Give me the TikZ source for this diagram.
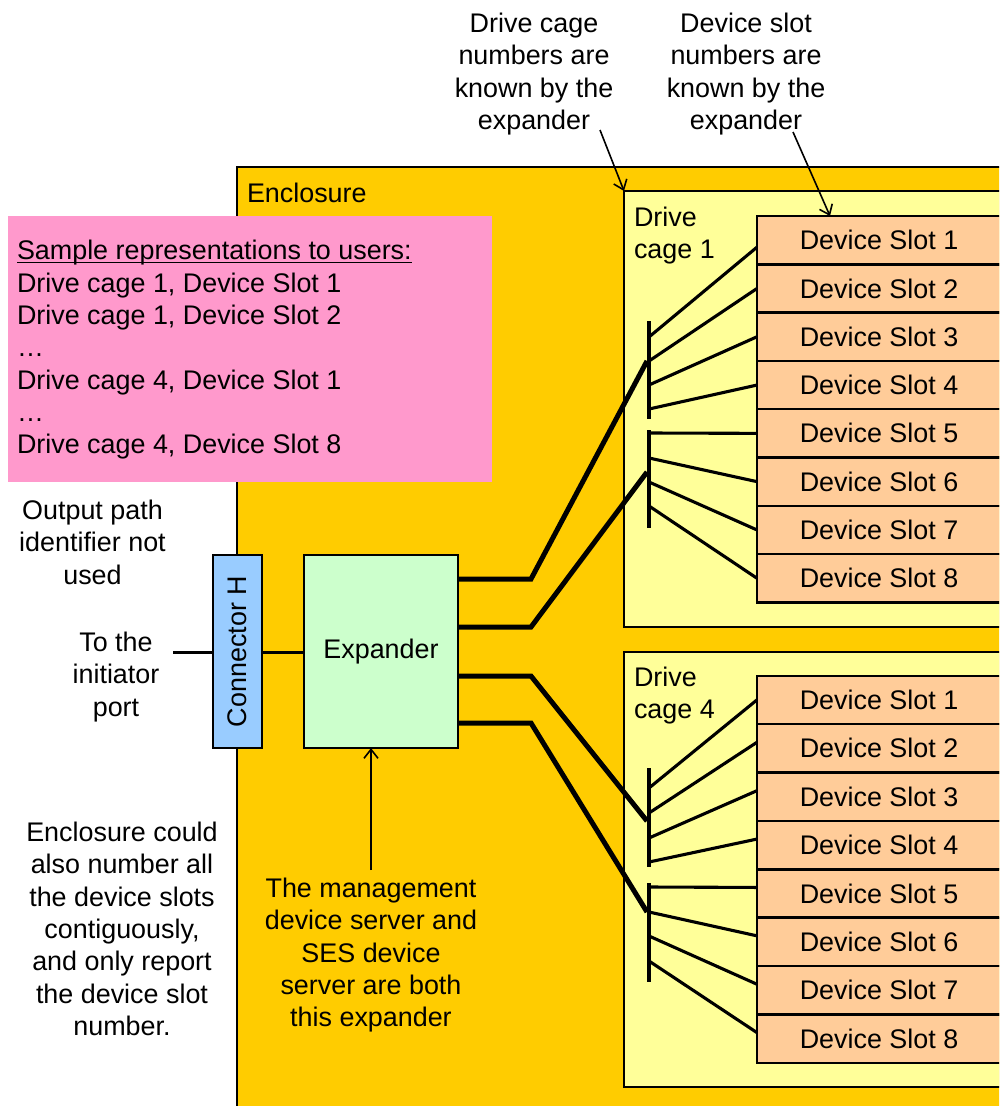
\documentclass[tikz,border=0pt]{standalone}
\usepackage{fontspec}
\setmainfont{Liberation Sans}
\usetikzlibrary{arrows.meta,calc}
\definecolor{enclc}{HTML}{FFCC00}
\definecolor{cagec}{HTML}{FFFF99}
\definecolor{slotc}{HTML}{FFCC99}
\definecolor{pinkc}{HTML}{FF99CC}
\definecolor{expc}{HTML}{CCFFCC}
\definecolor{conc}{HTML}{99CCFF}
\newcommand\myul[1]{\setbox0\hbox{#1}\rlap{\rule[-3.5pt]{\wd0}{1.6pt}}\box0}
\begin{document}
\begin{tikzpicture}[x=1pt,y=-1pt,
 every node/.style={font=\fontsize{26.9}{32.3}\selectfont, inner sep=0pt, outer sep=0pt},
 box/.style={draw=black, line width=2pt, anchor=north west},
 slotbox/.style={box, line width=2.4pt, fill=slotc, minimum width=244pt, minimum height=48.3pt},
 txt/.style={align=center, anchor=north},
 fanline/.style={line width=3.1pt},
 barline/.style={line width=3.3pt},
 thickline/.style={line width=5pt},
 conline/.style={line width=3pt},
 arr/.style={line width=1.6pt, -{Straight Barb[length=9pt,width=14pt,line width=1.6pt]}}
]
\clip (0,0) rectangle (999,1106);
\fill[white] (0,0) rectangle (999,1106);

% enclosure
\node[box, fill=enclc, minimum width=800pt, minimum height=1000pt] (encl) at (237,167) {};
\node[anchor=north west] (encllbl) at (247,183) {Enclosure};

% pink box
\node[anchor=north west, fill=pinkc, minimum width=484pt, minimum height=266pt] (pink) at (8,216) {};
\node[anchor=north west, align=left] (ptext) at (17,240.5) {\myul{Sample representations to users:}\\Drive cage 1, Device Slot 1\\Drive cage 1, Device Slot 2\\…\\Drive cage 4, Device Slot 1\\…\\Drive cage 4, Device Slot 8};

% drive cages
\node[box, fill=cagec, minimum width=420pt, minimum height=436pt] (cage1) at (624,191) {};
\node[box, fill=cagec, minimum width=420pt, minimum height=435pt] (cage4) at (624,652) {};
\node[anchor=north west, align=left] (c1lbl) at (634,207) {Drive\\cage 1};
\node[anchor=north west, align=left] (c4lbl) at (634,667) {Drive\\cage 4};

% slots
\foreach \i in {1,...,8} {
  \node[slotbox] (a\i) at (757,{216+48.3*(\i-1)}) {Device Slot \i};
  \node[slotbox] (b\i) at (757,{675.7+48.4*(\i-1)}) {Device Slot \i};
}

% bars
\coordinate (bar1t) at (649,321); \coordinate (bar1b) at (649,419);
\coordinate (bar2t) at (649,430); \coordinate (bar2b) at (649,528);
\coordinate (bar3t) at (649,768); \coordinate (bar3b) at (649,867);
\coordinate (bar4t) at (649,883); \coordinate (bar4b) at (649,982);
\draw[barline] (bar1t) -- (bar1b);
\draw[barline] (bar2t) -- (bar2b);
\draw[barline] (bar3t) -- (bar3b);
\draw[barline] (bar4t) -- (bar4b);

\foreach \i/\y in {1/337,2/361,3/385,4/409,5/433,6/458,7/482,8/506}
  \coordinate (pa\i) at (649,\y);
\foreach \i/\y in {1/788,2/813,3/838,4/862,5/887,6/912,7/936,8/961}
  \coordinate (pb\i) at (649,\y);

\draw[fanline] (pa1) -- ([yshift=-7pt]a1.west);
\foreach \i in {2,...,8} \draw[fanline] (pa\i) -- (a\i.west);
\draw[fanline] (pb1) -- (b1.west);
\foreach \i in {2,...,8} \draw[fanline] (pb\i) -- ([yshift=6pt]b\i.west);

% connector and expander
\node[box, fill=conc, minimum width=49pt, minimum height=193pt] (conn) at (213,555) {};
\node[rotate=90] (connlbl) at (conn.center) {Connector H};
\node[box, fill=expc, minimum width=154pt, minimum height=193pt] (exp) at (304,555) {Expander};

\coordinate (init) at (173,652.5);
\draw[conline] (init) -- (init -| conn.west);
\draw[conline] (conn.east |- init) -- (exp.west |- init);

% thick links
\path (exp.north east) ++(0,24) coordinate (o1);
\path (exp.north east) ++(0,72) coordinate (o2);
\path (exp.north east) ++(0,121) coordinate (o3);
\path (exp.north east) ++(0,168) coordinate (o4);
\coordinate (q1) at (647,361);
\coordinate (q2) at (647,472);
\coordinate (q3) at (647,821);
\coordinate (q4) at (647,912);
\draw[thickline] (o1) -- (o1 -| 531,0) -- (q1);
\draw[thickline] (o2) -- (o2 -| 531,0) -- (q2);
\draw[thickline] (o3) -- (o3 -| 531,0) -- (q3);
\draw[thickline] (o4) -- (o4 -| 531,0) -- (q4);

% texts
\node[txt] (dcage) at (534,13) {Drive cage\\numbers are\\known by the\\expander};
\node[txt] (dslot) at (746,13) {Device slot\\numbers are\\known by the\\expander};
\node[txt] (outp) at (92.5,500) {Output path\\identifier not\\used};
\node[txt] (initp) at (116,632) {To the\\initiator\\port};
\node[txt] (mgmt) at (371,878) {The management\\device server and\\SES device\\server are both\\this expander};
\node[txt] (encnote) at (122,822) {Enclosure could\\also number all\\the device slots\\contiguously,\\and only report\\the device slot\\number.};

% arrows
\coordinate (a1s) at (600,130);
\coordinate (a2s) at (793,132);
\draw[arr] (a1s) -- (cage1.north west);
\draw[arr] (a2s) -- ($(a1.north west)+(73,0)$);
\draw[arr] ([yshift=8pt]mgmt.north) -- (mgmt.north |- exp.south);
\end{tikzpicture}
\end{document}
